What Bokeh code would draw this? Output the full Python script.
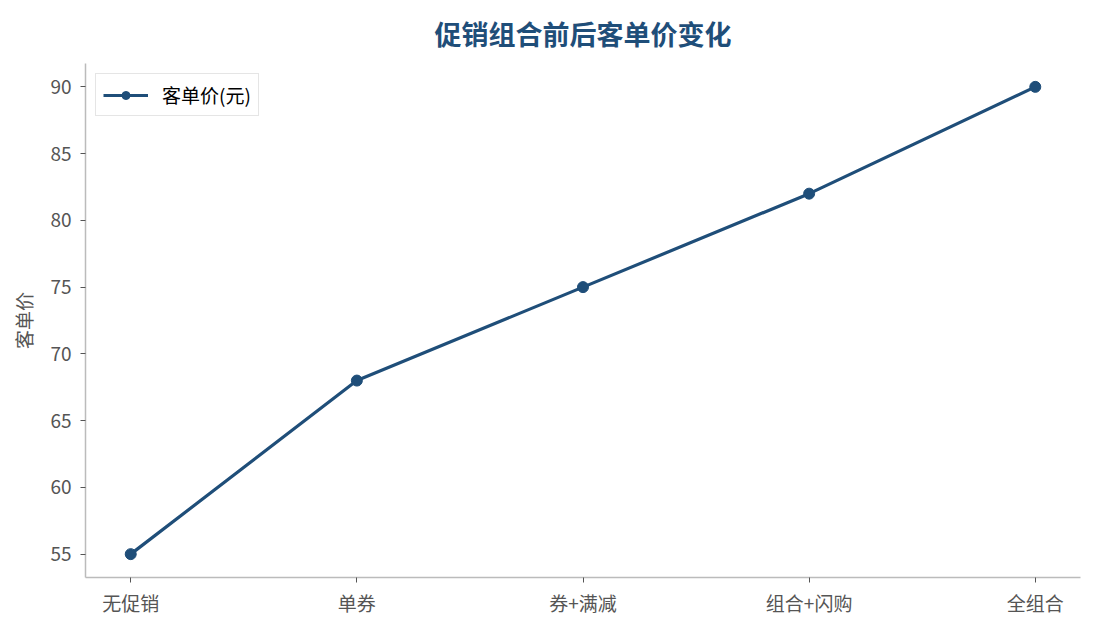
from bokeh.plotting import figure
from bokeh.models import Range1d, FixedTicker, Legend, LegendItem
from bokeh.embed import file_html
from bokeh.resources import INLINE

categories = ["无促销", "单券", "券+满减", "组合+闪购", "全组合"]
avg_price = [55, 68, 75, 82, 90]
y_ticks = [55, 60, 65, 70, 75, 80, 85, 90]

FONT = "Noto Sans CJK SC"
BLUE = "#1f4e79"
x_idx = list(range(len(categories)))

p = figure(
    width=1087, height=622,
    x_range=Range1d(-0.2, 4.2), y_range=Range1d(53.25, 91.75),
    toolbar_location=None, output_backend="svg",
    min_border_left=85, min_border_right=7,
    min_border_top=62, min_border_bottom=45,
)

# --- title ---
p.title.text = "促销组合前后客单价变化"
p.title.align = "center"
p.title.text_font = FONT
p.title.text_font_size = "27px"
p.title.text_font_style = "bold"
p.title.text_color = BLUE
p.title.offset = 0
p.title.standoff = 22

# --- axes ---
p.xaxis.ticker = FixedTicker(ticks=x_idx)
p.xaxis.major_label_overrides = {i: c for i, c in enumerate(categories)}
p.yaxis.ticker = FixedTicker(ticks=y_ticks)
p.yaxis.axis_label = "客单价"
p.yaxis.axis_label_text_font = FONT
p.yaxis.axis_label_text_font_size = "19px"
p.yaxis.axis_label_text_font_style = "normal"
p.yaxis.axis_label_text_color = "#555555"
p.yaxis.axis_label_standoff = 10
for ax in (p.xaxis, p.yaxis):
    ax.major_label_text_font = FONT
    ax.major_label_text_font_size = "19px"
    ax.major_label_text_color = "#555555"
    ax.axis_line_color = "#bbbbbb"
    ax.axis_line_width = 1.5
    ax.major_tick_line_color = "#555555"
    ax.major_tick_in = 0
    ax.major_tick_out = 5
    ax.minor_tick_line_color = None
p.xaxis.major_label_standoff = 6
p.yaxis.major_label_standoff = 9

p.grid.grid_line_color = None
p.outline_line_color = None

# --- line + markers ---
ln = p.line(x_idx, avg_price, line_color=BLUE, line_width=3.2)
sc = p.scatter(x_idx, avg_price, size=11, fill_color=BLUE, line_color=BLUE)

legend = Legend(
    items=[LegendItem(label="客单价(元)", renderers=[ln, sc])],
    location="top_left",
    label_text_font=FONT, label_text_font_size="19px", label_text_color="#000000",
    border_line_color="#cccccc", border_line_width=1.5,
    margin=10, padding=7, glyph_width=45, label_standoff=14,
    background_fill_alpha=0.9,
)
p.add_layout(legend)

open("out.html", "w").write(file_html(p, INLINE))
